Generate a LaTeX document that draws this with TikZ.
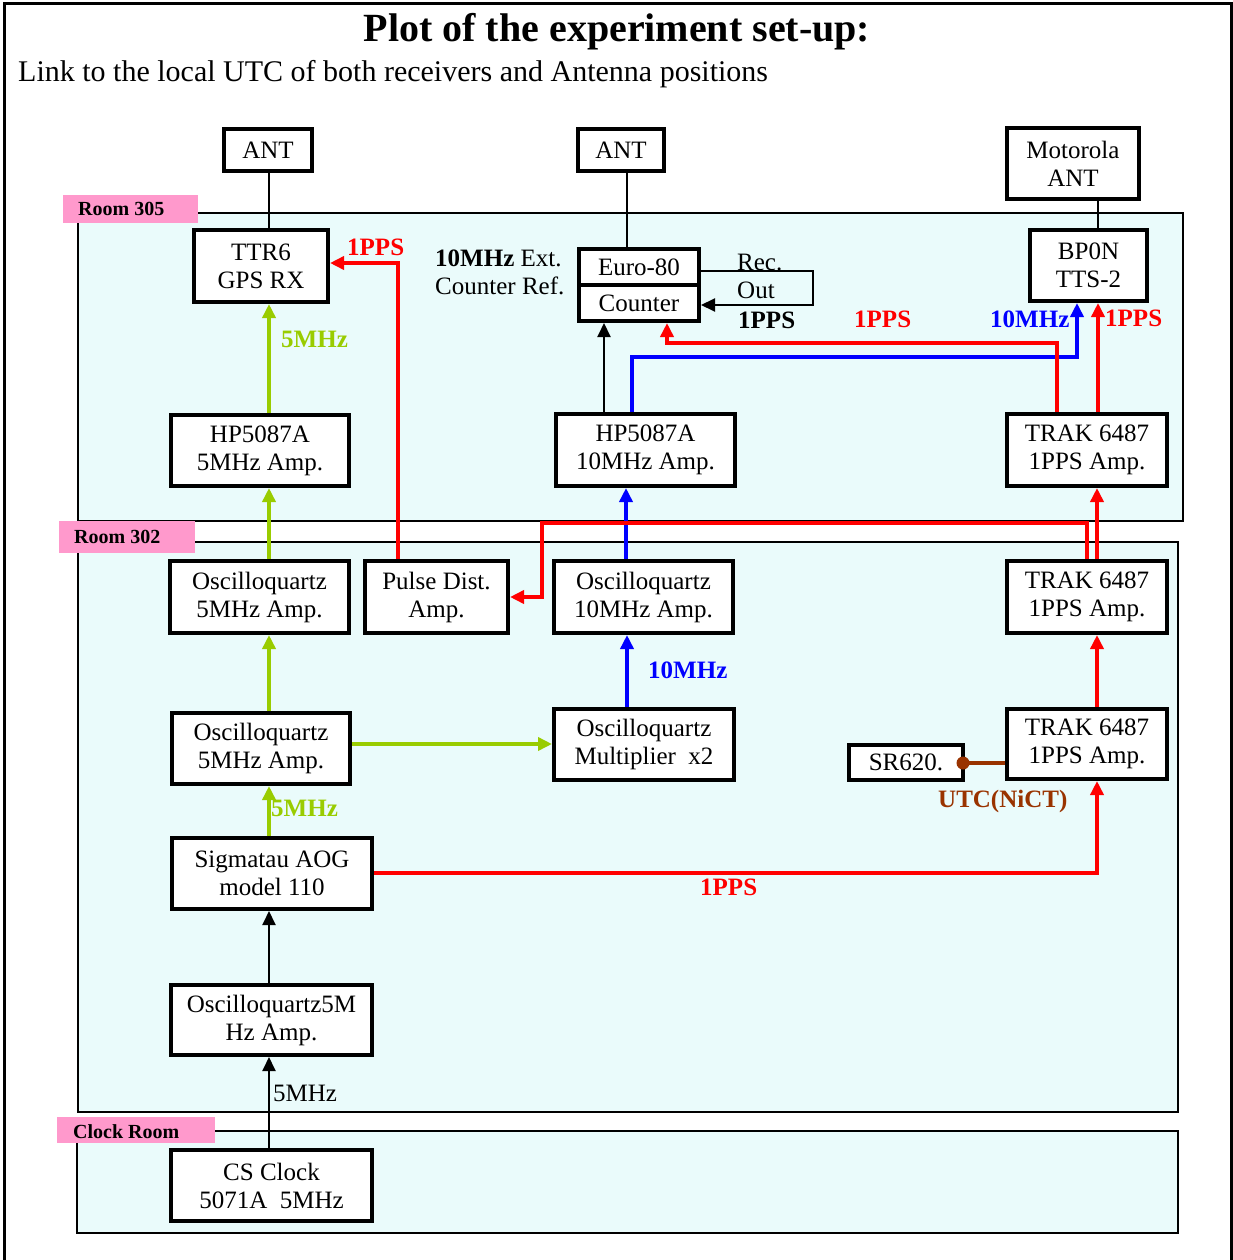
\documentclass[tikz,border=0pt]{standalone}
\usepackage{fontspec}
\setmainfont{Liberation Serif}
\usetikzlibrary{arrows.meta}
\definecolor{roomcyan}{RGB}{234,251,251}
\definecolor{labpink}{RGB}{255,153,204}
\definecolor{limeg}{RGB}{153,204,0}
\definecolor{brownc}{RGB}{153,51,0}
\begin{document}
\begin{tikzpicture}[x=1pt,y=-1pt,
  box/.style={draw, line width=4pt, fill=white, align=center, inner sep=0pt, font=\fontsize{25}{28}\selectfont},
  room/.style={draw, line width=1.5pt, fill=roomcyan},
  roomlab/.style={anchor=base west, inner sep=0pt, font=\fontsize{20}{24}\selectfont\bfseries},
  lab/.style={anchor=base west, inner sep=0pt, font=\fontsize{25}{30}\selectfont\bfseries},
  txt/.style={anchor=base west, inner sep=0pt, font=\fontsize{25}{30}\selectfont},
  tipA/.style={-{Triangle[length=14pt,width=13pt]}},
  wireK/.style={line width=2pt, black},
  sigK/.style={line width=2pt, black, tipA},
  sigG/.style={line width=4pt, color=limeg, tipA},
  sigR/.style={line width=4pt, color=red, tipA},
  sigB/.style={line width=4pt, color=blue, tipA},
  sigN/.style={line width=4pt, color=brownc}
]
\useasboundingbox (0,0) rectangle (1233,1260);
% frame
\draw[line width=3pt] (4,1260) -- (4,4) -- (1231,4) -- (1231,1260);
% titles
\node[anchor=base, inner sep=0pt, font=\fontsize{40}{48}\selectfont\bfseries] (title) at (617,42) {Plot of the experiment set-up:};
\node[anchor=base west, inner sep=0pt, font=\fontsize{30}{36}\selectfont] (subtitle) at (18,82) {Link to the local UTC of both receivers and Antenna positions};
% rooms
\draw[room] (78,213) rectangle (1183,521);
\draw[room] (78,542) rectangle (1178,1112);
\draw[room] (77,1131) rectangle (1178,1233);
\fill[labpink] (63,195) rectangle (198,223);
\node[roomlab] (r305) at (78,215) {Room 305};
\fill[labpink] (59,521) rectangle (195,553);
\node[roomlab] (r302) at (74,543) {Room 302};
\fill[labpink] (57,1117) rectangle (215,1143);
\node[roomlab] (rclock) at (73,1138) {Clock Room};
% boxes
\node[box, minimum width=88pt, minimum height=42pt] (ant1) at (268,150) {ANT};
\node[box, minimum width=86pt, minimum height=42pt] (ant2) at (621,150) {ANT};
\node[box, minimum width=132pt, minimum height=71pt] (mot) at (1073,163.5) {Motorola\\ANT};
\node[box, minimum width=134pt, minimum height=72pt] (ttr) at (261,266) {TTR6\\GPS RX};
\node[box, minimum width=120pt, minimum height=36pt] (euro) at (639,267) {Euro-80};
\node[box, minimum width=120pt, minimum height=36pt] (counter) at (639,303) {Counter};
\node[box, minimum width=117pt, minimum height=71pt] (bp) at (1088.5,265.5) {BP0N\\TTS-2};
\node[box, minimum width=178pt, minimum height=71pt] (hp5) at (260,450.5) {HP5087A\\5MHz Amp.};
\node[box, minimum width=179pt, minimum height=72pt] (hp10) at (645.5,450) {HP5087A\\10MHz Amp.};
\node[box, minimum width=160pt, minimum height=72pt] (trakA) at (1087,450) {TRAK 6487\\1PPS Amp.};
\node[box, minimum width=179pt, minimum height=72pt] (oq5a) at (259.5,597) {Oscilloquartz\\5MHz Amp.};
\node[box, minimum width=143pt, minimum height=72pt] (pulse) at (436.5,597) {Pulse Dist.\\Amp.};
\node[box, minimum width=179pt, minimum height=72pt] (oq10) at (643.5,597) {Oscilloquartz\\10MHz Amp.};
\node[box, minimum width=160pt, minimum height=72pt] (trakB) at (1087,597) {TRAK 6487\\1PPS Amp.};
\node[box, minimum width=178pt, minimum height=71pt] (oq5b) at (261,748.5) {Oscilloquartz\\5MHz Amp.};
\node[box, minimum width=180pt, minimum height=71pt] (mult) at (644,744.5) {Oscilloquartz\\Multiplier\ \ x2};
\node[box, minimum width=160pt, minimum height=70pt] (trakC) at (1087,744) {TRAK 6487\\1PPS Amp.};
\node[box, minimum width=114pt, minimum height=35pt] (sr) at (906,762.5) {SR620.};
\node[box, minimum width=200pt, minimum height=71pt] (sig) at (272,873.5) {Sigmatau AOG\\model 110};
\node[box, minimum width=201pt, minimum height=70pt] (oq5m) at (271.5,1020) {Oscilloquartz5M\\Hz Amp.};
\node[box, minimum width=201pt, minimum height=71pt] (cs) at (271.5,1185.5) {CS Clock\\5071A\ \ 5MHz};
% helper coordinates
\coordinate (xA) at (269,0);
\coordinate (xAnt2) at (627,0);
\coordinate (xMot) at (1098,0);
\coordinate (recR) at (813,271);
\coordinate (recY) at (0,305);
\coordinate (xCnt) at (604,0);
\coordinate (bl1) at (632,357);
\coordinate (bl2) at (1077,357);
\coordinate (rd1) at (1057,343);
\coordinate (rd2) at (667,343);
\coordinate (xT) at (1097,0);
\coordinate (pd1) at (398,263);
\coordinate (xB10) at (626,0);
\coordinate (pl1) at (1087,523);
\coordinate (pl2) at (542,523);
\coordinate (pl3) at (542,597);
\coordinate (gy) at (0,744);
\coordinate (xM) at (627,0);
\coordinate (by) at (0,763);
\coordinate (sg1) at (1097,873);
% antenna lines
\draw[wireK] (ant1.south -| xA) -- (ttr.north -| xA);
\draw[wireK] (ant2.south -| xAnt2) -- (euro.north -| xAnt2);
\draw[wireK] (mot.south -| xMot) -- (bp.north -| xMot);
% counter loop
\draw[sigK] (euro.east |- recR) -- (recR) -- (recR |- recY) -- (counter.east |- recY);
\draw[sigK] (hp10.north -| xCnt) -- (counter.south -| xCnt);
% room 305 signals
\draw[sigB] (hp10.north -| bl1) -- (bl1) -- (bl2) -- (bp.south -| bl2);
\draw[sigR] (trakA.north -| rd1) -- (rd1) -- (rd2) -- (counter.south -| rd2);
\draw[sigR] (trakA.north -| xMot) -- (bp.south -| xMot);
\draw[sigG] (hp5.north -| xA) -- (ttr.south -| xA);
\draw[sigR] (pulse.north -| pd1) -- (pd1) -- (ttr.east |- pd1);
% room 302 signals
\draw[sigG] (oq5a.north -| xA) -- (hp5.south -| xA);
\draw[sigB] (oq10.north -| xB10) -- (hp10.south -| xB10);
\draw[sigR] (trakB.north -| xT) -- (trakA.south -| xT);
\draw[sigR] (trakB.north -| pl1) -- (pl1) -- (pl2) -- (pl3) -- (pulse.east |- pl3);
\draw[sigG] (oq5b.north -| xA) -- (oq5a.south -| xA);
\draw[sigG] (oq5b.east |- gy) -- (mult.west |- gy);
\draw[sigB] (mult.north -| xM) -- (oq10.south -| xM);
\draw[sigR] (trakC.north -| xT) -- (trakB.south -| xT);
\draw[sigN] (trakC.west |- by) -- (sr.east |- by);
\fill[brownc] ([xshift=-2pt]sr.east |- by) circle[radius=6.5pt];
\draw[sigG] (sig.north -| xA) -- (oq5b.south -| xA);
\draw[sigR] (sig.east |- sg1) -- (sg1) -- (trakC.south -| sg1);
\draw[sigK] (oq5m.north -| xA) -- (sig.south -| xA);
\draw[sigK] (cs.north -| xA) -- (oq5m.south -| xA);
% labels
\node[lab, red] (l1pps1) at (347,255) {1PPS};
\node[lab, limeg] (l5mhz1) at (281,347) {5MHz};
\node[txt] (lext) at (435,266) {\textbf{10MHz} Ext.};
\node[txt] (lcref) at (435,294) {Counter Ref.};
\node[txt] (lrec) at (737,270) {Rec.};
\node[txt] (lout) at (737,298) {Out};
\node[lab] (l1ppsk) at (738,328) {1PPS};
\node[lab, red] (l1pps2) at (854,327) {1PPS};
\node[lab, blue] (l10mhz1) at (990,327) {10MHz};
\node[lab, red] (l1pps3) at (1105,326) {1PPS};
\node[lab, blue] (l10mhz2) at (648,678) {10MHz};
\node[lab, brownc] (lutc) at (938,807) {UTC(NiCT)};
\node[lab, limeg] (l5mhz2) at (271,816) {5MHz};
\node[lab, red] (l1pps4) at (700,895) {1PPS};
\node[txt] (l5mhz3) at (273,1101) {5MHz};
\end{tikzpicture}
\end{document}
